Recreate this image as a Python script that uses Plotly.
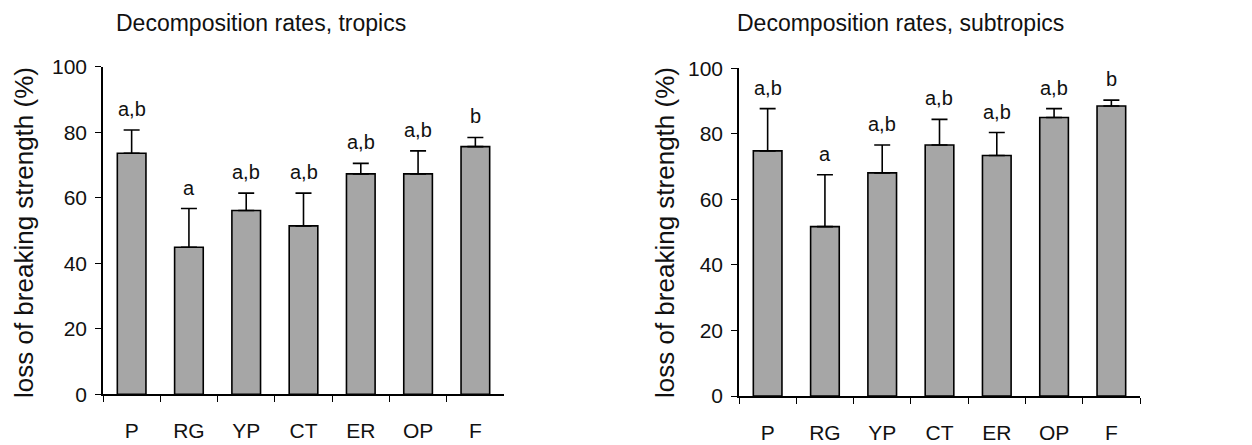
import plotly.graph_objects as go

categories = ["P", "RG", "YP", "CT", "ER", "OP", "F"]

tropics_mean = [73.6, 44.9, 56.1, 51.4, 67.3, 67.3, 75.6]
tropics_err = [7.1, 11.8, 5.3, 10.0, 3.2, 7.0, 2.8]
tropics_letters = ["a,b", "a", "a,b", "a,b", "a,b", "a,b", "b"]

subtropics_mean = [74.8, 51.7, 68.1, 76.6, 73.4, 85.0, 88.5]
subtropics_err = [12.9, 15.8, 8.5, 7.8, 7.0, 2.7, 1.8]
subtropics_letters = ["a,b", "a", "a,b", "a,b", "a,b", "a,b", "b"]

y_ticks = [0, 20, 40, 60, 80, 100]

FONT = "Liberation Sans, Arial, sans-serif"
W, H = 1252, 445
OFF_X = 6
OFF_Y = 8


def px_x(v):
    return (v - OFF_X) / W


def px_y(v):
    return 1 - (v - OFF_Y) / H


fig = go.Figure()

panels = [
    dict(means=tropics_mean, errs=tropics_err, letters=tropics_letters,
         xa="x", ya="y", title="Decomposition rates, tropics",
         xdom=(px_x(101), px_x(502)), ydom=(px_y(394.3), px_y(66.7)),
         title_x=259, ytitle_x=22),
    dict(means=subtropics_mean, errs=subtropics_err, letters=subtropics_letters,
         xa="x2", ya="y2", title="Decomposition rates, subtropics",
         xdom=(px_x(737), px_x(1138)), ydom=(px_y(396), px_y(68.3)),
         title_x=898, ytitle_x=663),
]

annotations = []
for i, p in enumerate(panels):
    fig.add_trace(go.Bar(
        x=categories, y=p["means"], xaxis=p["xa"], yaxis=p["ya"],
        width=0.5,
        marker=dict(color="#a6a6a6", line=dict(color="black", width=1.6)),
        error_y=dict(type="data", array=p["errs"], arrayminus=[0] * len(categories),
                     symmetric=False, color="black", thickness=1.6, width=8),
        showlegend=False, hoverinfo="skip",
    ))
    sfx = "" if i == 0 else "2"
    for c, m, e, t in zip(categories, p["means"], p["errs"], p["letters"]):
        annotations.append(dict(
            x=c, y=m + e, xref="x" + sfx, yref="y" + sfx, text=t,
            showarrow=False, yanchor="bottom", yshift=8,
            font=dict(family=FONT, size=20, color="#111"),
        ))
    annotations.append(dict(
        x=px_x(p["title_x"]), y=px_y(23), xref="paper", yref="paper",
        text=p["title"], showarrow=False, xanchor="center", yanchor="middle",
        font=dict(family=FONT, size=23, color="#111"),
    ))
    annotations.append(dict(
        x=px_x(p["ytitle_x"]), y=px_y(233), xref="paper", yref="paper",
        text="loss of breaking strength (%)", textangle=-90, showarrow=False,
        xanchor="center", yanchor="middle",
        font=dict(family=FONT, size=26, color="#111"),
    ))
    axis_common = dict(showline=True, linecolor="black", linewidth=1.5,
                       showgrid=False, zeroline=False, ticks="outside",
                       tickcolor="black", ticklen=6, tickwidth=1.3,
                       automargin=False)
    fig.layout["xaxis" + sfx] = dict(
        domain=p["xdom"], anchor="y" + sfx, range=[-0.5, 6.5],
        tickson="boundaries", ticklabelstandoff=17,
        tickfont=dict(family=FONT, size=21, color="#111"), **axis_common)
    fig.layout["yaxis" + sfx] = dict(
        domain=p["ydom"], anchor="x" + sfx, range=[0, 100],
        tickvals=y_ticks, ticklabelstandoff=4,
        tickfont=dict(family=FONT, size=21, color="#111"), **axis_common)

fig.update_layout(
    template="none",
    width=W, height=H,
    margin=dict(l=0, r=0, t=0, b=0, autoexpand=False),
    paper_bgcolor="white", plot_bgcolor="white",
    annotations=annotations, bargap=0.5,
)

fig.write_html("out.html")
